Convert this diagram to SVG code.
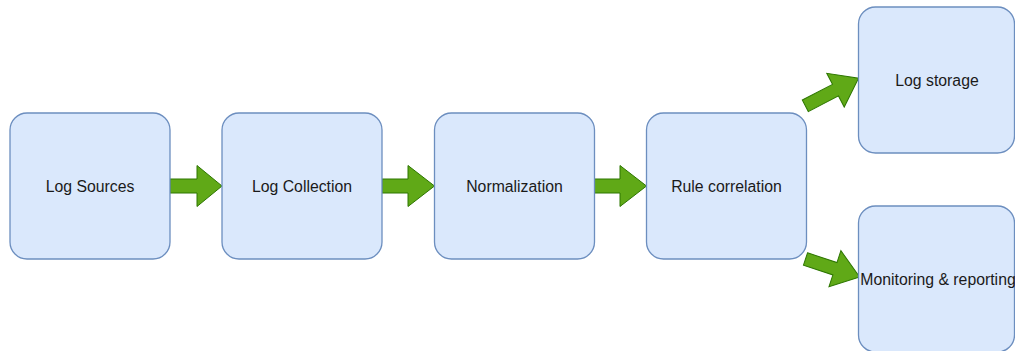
<svg xmlns="http://www.w3.org/2000/svg" width="1015" height="351" viewBox="0 0 1015 351">
<style>
.box{fill:#dae8fc;stroke:#6c8ebf;stroke-width:1.3}
.lbl{font-family:"Liberation Sans",Arial,sans-serif;font-size:15.8px;fill:#1a1a1a;text-anchor:middle;dominant-baseline:central}
.arr{fill:#60a917;stroke:#2d7600;stroke-width:1}
</style>
<rect width="1015" height="351" fill="#ffffff"/>
<g id="connectors">
<path class="arr" d="M170,179 H197 V165.5 L222,186 L197,206.5 V193 H170 Z"/>
<path class="arr" d="M382,179 H408 V165.5 L434.5,186 L408,206.5 V193 H382 Z"/>
<path class="arr" d="M594,179 H620 V165.5 L646.5,186 L620,206.5 V193 H594 Z"/>
<path class="arr" transform="translate(805.3,105.8) rotate(-27.4)" d="M0,-6.5 H34 V-19 L60,0 L34,19 V6.5 H0 Z"/>
<path class="arr" transform="translate(805.5,259) rotate(18.3)" d="M0,-6.5 H31 V-19 L57,0 L31,19 V6.5 H0 Z"/>
</g>
<g id="node-log-sources"><rect class="box" x="10" y="113" width="160" height="146" rx="17"/><text class="lbl" x="90" y="186">Log Sources</text></g>
<g id="node-log-collection"><rect class="box" x="222" y="113" width="160" height="146" rx="17"/><text class="lbl" x="302" y="186">Log Collection</text></g>
<g id="node-normalization"><rect class="box" x="434.5" y="113" width="160" height="146" rx="17"/><text class="lbl" x="514.5" y="186">Normalization</text></g>
<g id="node-rule-correlation"><rect class="box" x="646.5" y="113" width="160" height="146" rx="17"/><text class="lbl" x="726.5" y="186">Rule correlation</text></g>
<g id="node-log-storage"><rect class="box" x="858.5" y="7" width="156" height="146" rx="17"/><text class="lbl" x="937" y="80">Log storage</text></g>
<g id="node-monitoring"><rect class="box" x="858.5" y="206" width="156" height="146" rx="17"/><text class="lbl" x="938" y="279">Monitoring &amp; reporting</text></g>
</svg>
